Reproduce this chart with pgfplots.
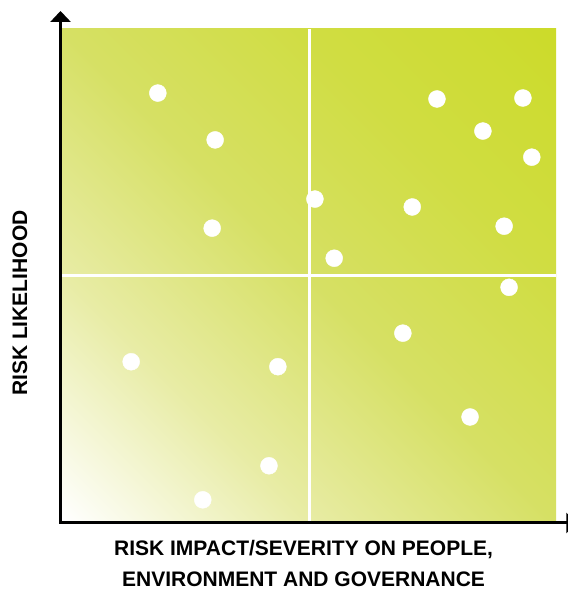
\documentclass[border=0pt]{standalone}
\usepackage{pgfplots}
\pgfplotsset{compat=1.18}
\usepackage{fontspec}
\setmainfont{Liberation Sans}
\usetikzlibrary{arrows.meta}

\definecolor{gA}{RGB}{232,236,165}
\definecolor{gB}{RGB}{214,224,100}
\definecolor{gC}{RGB}{208,221,66}
\definecolor{gD}{RGB}{204,219,42}

% diagonal gradient, bottom-left white -> top-right yellow green
\pgfdeclarehorizontalshading{riskgrad}{100bp}{%
  color(0bp)=(white); color(14.64bp)=(white); color(32.32bp)=(gA);
  color(50bp)=(gB); color(67.68bp)=(gC); color(85.36bp)=(gD); color(100bp)=(gD)}

\begin{document}
\begin{tikzpicture}
\begin{axis}[
    set layers,
    scale only axis,
    width=494pt, height=493pt,
    xmin=0, xmax=10, ymin=0, ymax=10,
    hide axis,
    clip=false,
]
\begin{pgfonlayer}{axis background}
  \shade[shading=riskgrad, shading angle=45] (axis cs:0,0) rectangle (axis cs:10,10);
  \draw[white, line width=3pt] (axis cs:5,0) -- (axis cs:5,10);
  \draw[white, line width=3pt] (axis cs:0,5) -- (axis cs:10,5);
\end{pgfonlayer}

\addplot[white, only marks, mark=*, mark size=8.5pt,
         mark options={draw=white, fill=white}]
  coordinates {
    (1.94,8.70) (3.10,7.75) (3.04,5.96) (5.12,6.55) (5.51,5.35)
    (7.59,8.58) (9.33,8.60) (8.52,7.93) (9.51,7.40) (7.09,6.39)
    (8.95,6.00) (9.05,4.76) (6.90,3.83) (1.40,3.25) (4.37,3.15)
    (8.26,2.13) (4.19,1.14) (2.85,0.45)
  };

\draw[line width=3pt, {Triangle[width=20pt,length=11pt]}-{Triangle[width=20pt,length=11pt]}]
  (axis cs:10.43,-0.02) -- (axis cs:-0.03,-0.02) -- (axis cs:-0.03,10.365);

\node[rotate=90, font=\bfseries\fontsize{21}{25}\selectfont]
  at (axis cs:-0.85,4.44) {RISK LIKELIHOOD};
\node[align=center, font=\bfseries\fontsize{21}{31}\selectfont]
  at (axis cs:4.89,-0.842) {RISK IMPACT/SEVERITY ON PEOPLE,\\ENVIRONMENT AND GOVERNANCE};

\coordinate (bbl) at (axis cs:-1.255,-1.420);
\coordinate (btr) at (axis cs:10.223,10.588);
\end{axis}
\pgfresetboundingbox
\path[use as bounding box] (bbl) rectangle (btr);
\end{tikzpicture}
\end{document}
